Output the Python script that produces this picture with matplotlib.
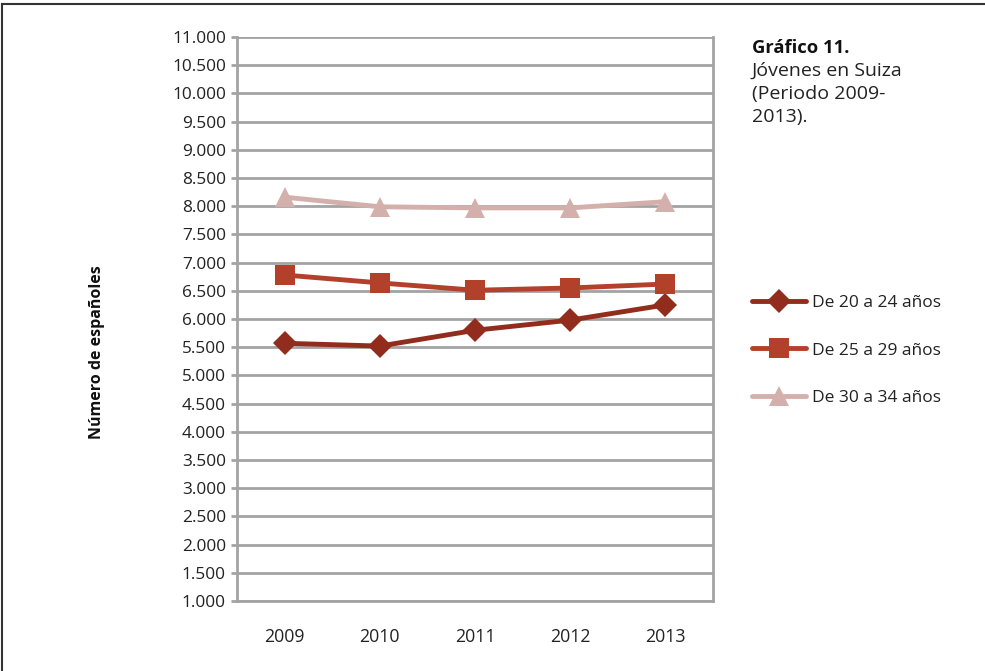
import matplotlib
matplotlib.use("Agg")
import matplotlib.pyplot as plt
from matplotlib.lines import Line2D
from matplotlib.ticker import FuncFormatter

plt.rcParams['font.family'] = ['Open Sans', 'DejaVu Sans']

years = ["2009", "2010", "2011", "2012", "2013"]
edad_20_24 = [5570, 5520, 5800, 5980, 6250]
edad_25_29 = [6780, 6640, 6510, 6550, 6620]
edad_30_34 = [8160, 7990, 7970, 7970, 8080]
series_labels = ["De 20 a 24 años", "De 25 a 29 años", "De 30 a 34 años"]
y_ticks = list(range(1000, 11001, 500))

W, H = 985, 671
fig = plt.figure(figsize=(W / 100, H / 100), dpi=100)
ax = fig.add_axes([237 / W, 1 - 601 / H, 476 / W, 564 / H])

grid_c = "#a3a3a3"
text_c = "#222222"
x = list(range(len(years)))
styles = [
    (edad_20_24, "#922c1c", "D", 12),
    (edad_25_29, "#b2402a", "s", 15),
    (edad_30_34, "#d4b0ac", "^", 15),
]
for (vals, col, mk, ms), lab in zip(styles, series_labels):
    ax.plot(x, vals, color=col, lw=3.5, marker=mk, markersize=ms,
            markeredgewidth=0, label=lab, solid_capstyle="round", zorder=3)

ax.set_xlim(-0.5, 4.5)
ax.set_ylim(1000, 11000)
ax.set_yticks(y_ticks)
ax.yaxis.set_major_formatter(FuncFormatter(lambda v, p: f"{int(v):,}".replace(",", ".")))
ax.set_xticks(x)
ax.set_xticklabels(years)
ax.grid(axis="y", color=grid_c, lw=2)
ax.set_axisbelow(True)
for side in ["left", "right", "bottom"]:
    ax.spines[side].set_color(grid_c)
    ax.spines[side].set_linewidth(2)
ax.spines["top"].set_visible(False)
ax.tick_params(axis="y", colors=grid_c, length=4, width=2, labelcolor=text_c,
               labelsize=12.4, pad=4)
ax.tick_params(axis="x", length=0, labelcolor=text_c, labelsize=12.8, pad=19.5)

fig.text(97 / W, 1 - 352 / H, "Número de españoles", rotation=90,
         fontsize=11.5, fontweight="bold", color="#111111",
         ha="center", va="center")

leg = ax.legend(loc="upper left", bbox_to_anchor=(752 / W, 1 - 295 / H),
                bbox_transform=fig.transFigure, frameon=False,
                fontsize=12.5, handlelength=3.1, handletextpad=0.35,
                labelspacing=1.8, borderaxespad=0, borderpad=0)
for t in leg.get_texts():
    t.set_color(text_c)

fig.text(752 / W, 1 - 48 / H, "Gráfico 11.", fontsize=13.2, fontweight="bold",
         color="#111111", va="center", ha="left")
for i, line in enumerate(["Jóvenes en Suiza", "(Periodo 2009-", "2013)."]):
    fig.text(752 / W, 1 - (71 + 23 * i) / H, line, fontsize=14,
             color=text_c, va="center", ha="left")

# outer frame: top and left edges
fig.add_artist(Line2D([2 / W, 984 / W], [1 - 4 / H, 1 - 4 / H],
                      transform=fig.transFigure, color="#333333", lw=1.5))
fig.add_artist(Line2D([2 / W, 2 / W], [0, 1 - 4 / H],
                      transform=fig.transFigure, color="#333333", lw=1.5))

fig.savefig("out.png", dpi=100)
